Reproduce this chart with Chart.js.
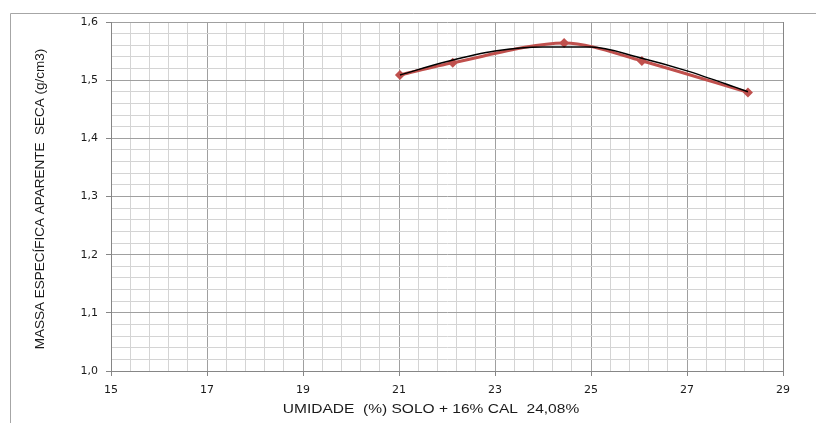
<!DOCTYPE html>
<html>
<head>
<meta charset="utf-8">
<script src="https://cdn.jsdelivr.net/npm/chart.js@4.4.1/dist/chart.umd.min.js"></script>
<style>
  html, body { margin: 0; padding: 0; background: #fff; }
  #wrap { width: 816px; height: 423px; position: relative; }
</style>
</head>
<body>
<div id="wrap"><canvas id="myChart" width="816" height="423"></canvas></div>
<script>
// ensaio de compactacao - pontos medidos
var umidade = [21.02, 22.12, 24.44, 26.06, 28.27];
var massaSeca = [1.509, 1.530, 1.564, 1.533, 1.479];

// linha de tendencia
var trendX = [21.02, 22, 23, 24, 25, 26, 27, 28, 28.27];
var trendY = [1.509, 1.532, 1.550, 1.557, 1.557, 1.539, 1.516, 1.488, 1.480];

var xTitle = "UMIDADE  (%) SOLO + 16% CAL  24,08%";
var yTitle = "MASSA ESPECÍFICA APARENTE  SECA (g/cm3)";

function isMajor(v, base, step) {
  var r = (v - base) / step;
  return Math.abs(r - Math.round(r)) < 1e-6;
}

function toPoints(xs, ys) {
  return xs.map(function (x, i) { return { x: x, y: ys[i] }; });
}

var frame = {
  id: "frame",
  beforeDraw: function (chart) {
    var c = chart.ctx;
    c.save();
    c.strokeStyle = "#a6a6a6";
    c.lineWidth = 1;
    c.beginPath();
    c.moveTo(10.5, 423);
    c.lineTo(10.5, 13.5);
    c.lineTo(816, 13.5);
    c.stroke();
    c.restore();
  },
  afterDraw: function (chart) {
    var a = chart.chartArea;
    var c = chart.ctx;
    c.save();
    c.strokeStyle = "#868686";
    c.lineWidth = 1;
    c.beginPath();
    c.moveTo(Math.round(a.right) + 0.5, a.top);
    c.lineTo(Math.round(a.right) + 0.5, a.bottom);
    c.stroke();
    // titulos dos eixos
    c.fillStyle = "#1a1a1a";
    c.font = "13.5px 'Liberation Sans'";
    c.textAlign = "center";
    c.textBaseline = "middle";
    c.save();
    c.translate(431, 409);
    c.scale(1.15, 1);
    c.fillText(xTitle, 0, 0);
    c.restore();
    c.translate(40, 199);
    c.rotate(-Math.PI / 2);
    c.fillText(yTitle, 0, 0);
    c.restore();
  }
};

var ctx = document.getElementById("myChart").getContext("2d");
var myChart = new Chart(ctx, {
  type: "scatter",
  data: {
    datasets: [
      {
        label: "medido",
        data: toPoints(umidade, massaSeca),
        showLine: true,
        borderColor: "#C0504D",
        backgroundColor: "#C0504D",
        borderWidth: 3,
        tension: 0.3,
        pointStyle: "rectRot",
        pointRadius: 5,
        pointBorderWidth: 0,
        order: 2
      },
      {
        label: "tendencia",
        data: toPoints(trendX, trendY),
        showLine: true,
        borderColor: "#000000",
        borderWidth: 1.5,
        cubicInterpolationMode: "monotone",
        pointRadius: 0,
        order: 1
      }
    ]
  },
  options: {
    responsive: false,
    animation: false,
    layout: { padding: { left: 12, right: 33, top: 22, bottom: 4 } },
    plugins: { legend: { display: false }, tooltip: { enabled: false } },
    scales: {
      x: {
        type: "linear",
        min: 15,
        max: 29,
        afterBuildTicks: function (scale) {
          var t = [];
          for (var i = 0; i <= 35; i++) t.push({ value: +(15 + i * 0.4).toFixed(2) });
          scale.ticks = t;
        },
        afterFit: function (scale) { scale.height = 48; },
        ticks: {
          autoSkip: false,
          maxRotation: 0,
          color: "#1a1a1a",
          font: { family: "DejaVu Sans", size: 11 },
          padding: 8,
          callback: function (v) { return isMajor(v, 15, 2) ? String(Math.round(v)) : ""; }
        },
        grid: {
          color: function (c) { return isMajor(c.tick.value, 15, 2) ? "#a0a0a0" : "#d4d4d4"; },
          tickColor: function (c) { return isMajor(c.tick.value, 15, 2) ? "#868686" : "rgba(0,0,0,0)"; },
          tickLength: 5,
          lineWidth: 1
        },
        border: { color: "#868686" }
      },
      y: {
        type: "linear",
        min: 1.0,
        max: 1.6,
        afterBuildTicks: function (scale) {
          var t = [];
          for (var i = 0; i <= 30; i++) t.push({ value: +(1 + i * 0.02).toFixed(2) });
          scale.ticks = t;
        },
        afterFit: function (scale) { scale.width = 99; },
        ticks: {
          autoSkip: false,
          color: "#1a1a1a",
          font: { family: "DejaVu Sans", size: 11 },
          padding: 8,
          callback: function (v) { return isMajor(v, 1, 0.1) ? v.toFixed(1).replace(".", ",") : ""; }
        },
        grid: {
          color: function (c) { return isMajor(c.tick.value, 1, 0.1) ? "#a0a0a0" : "#d4d4d4"; },
          tickColor: function (c) { return isMajor(c.tick.value, 1, 0.1) ? "#868686" : "rgba(0,0,0,0)"; },
          tickLength: 5,
          lineWidth: 1
        },
        border: { color: "#868686" }
      }
    }
  },
  plugins: [frame]
});
</script>
</body>
</html>
